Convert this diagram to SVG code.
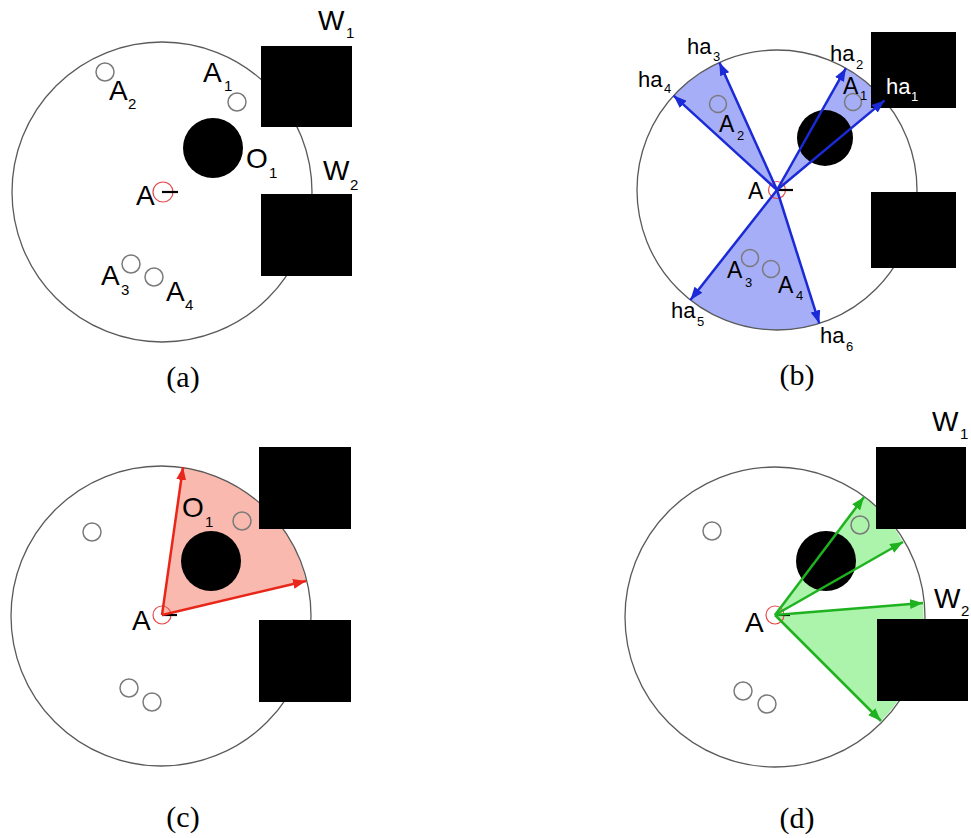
<svg xmlns="http://www.w3.org/2000/svg" width="971" height="838" viewBox="0 0 971 838">
<defs>
<style>
.env{fill:none;stroke:#5a5a5a;stroke-width:1.3}
.ag{fill:none;stroke:#7a7a7a;stroke-width:1.5}
.blk{fill:#000}
.rob{fill:none;stroke:#e84a4a;stroke-width:1.2}
.dash{stroke:#000;stroke-width:2.2}
.t{font-family:"Liberation Sans",Arial,sans-serif;fill:#000}
.L{font-size:28px}
.S{font-size:15px}
.Lb{font-size:23px}
.Sb{font-size:13px}
.H{font-size:22px}
.Hs{font-size:13px}
.w{fill:#fff}
.cap{font-family:"Liberation Serif","Times New Roman",serif;font-size:30px;fill:#000;text-anchor:middle}
.ab{stroke:#1a2ad6;stroke-width:2.5;fill:none}
.ar{stroke:#e8261a;stroke-width:2.5;fill:none}
.ag2{stroke:#1fb21f;stroke-width:2.5;fill:none}
</style>
<marker id="mb" markerUnits="userSpaceOnUse" markerWidth="13" markerHeight="10" refX="13" refY="5" orient="auto"><path d="M0,0 L13,5 L0,10 z" fill="#1a2ad6"/></marker>
<marker id="mr" markerUnits="userSpaceOnUse" markerWidth="13" markerHeight="10" refX="13" refY="5" orient="auto"><path d="M0,0 L13,5 L0,10 z" fill="#e8261a"/></marker>
<marker id="mg" markerUnits="userSpaceOnUse" markerWidth="13" markerHeight="10" refX="13" refY="5" orient="auto"><path d="M0,0 L13,5 L0,10 z" fill="#1fb21f"/></marker>
</defs>
<rect width="971" height="838" fill="#fff"/>

<!-- Panel (a) -->
<g id="panel-a">
<circle id="a-env" class="env" cx="162" cy="192" r="150"/>
<g id="a-A1"><circle class="ag" cx="237" cy="102" r="9"/><text class="t L" x="203" y="82">A</text><text class="t S" x="224" y="91">1</text></g>
<g id="a-A2"><circle class="ag" cx="105" cy="72" r="9"/><text class="t L" x="109" y="100">A</text><text class="t S" x="128" y="109">2</text></g>
<g id="a-A3"><circle class="ag" cx="131" cy="264" r="9"/><text class="t L" x="101" y="285">A</text><text class="t S" x="121" y="295">3</text></g>
<g id="a-A4"><circle class="ag" cx="154" cy="277" r="9"/><text class="t L" x="166" y="301">A</text><text class="t S" x="185" y="310">4</text></g>
<g id="a-O1"><circle class="blk" cx="213" cy="148" r="30"/><text class="t L" x="246" y="168">O</text><text class="t S" x="269" y="178">1</text></g>
<g id="a-W1"><rect class="blk" x="261" y="46" width="91" height="81"/><text class="t L" x="318" y="30">W</text><text class="t S" x="346" y="38">1</text></g>
<g id="a-W2"><rect class="blk" x="261" y="194" width="91" height="82"/><text class="t L" x="323" y="180">W</text><text class="t S" x="350" y="190">2</text></g>
<g id="a-A"><circle class="rob" cx="163" cy="192" r="10"/><line class="dash" x1="162" y1="192" x2="178" y2="192"/><text class="t L" x="136" y="205">A</text></g>
<text class="cap" x="183" y="387">(a)</text>
</g>

<!-- Panel (b) -->
<g id="panel-b">
<g id="b-fov" fill="#a6aef7">
<path d="M777,190 L884.6,100.4 A140,140 0 0 0 845.9,68.2 Z"/>
<path d="M777,190 L719.4,62.4 A140,140 0 0 0 673.6,95.6 Z"/>
<path d="M777,190 L690.4,300 A140,140 0 0 0 819.3,323.4 Z"/>
</g>
<circle id="b-env" class="env" cx="777" cy="190" r="140"/>
<g id="b-A1"><circle class="ag" cx="853" cy="102" r="8.5"/><text class="t Lb" x="843" y="94">A</text><text class="t Sb" x="860" y="100">1</text></g>
<g id="b-A2"><circle class="ag" cx="718" cy="104" r="8.5"/><text class="t Lb" x="719" y="132">A</text><text class="t Sb" x="737" y="140">2</text></g>
<g id="b-A3"><circle class="ag" cx="750" cy="258" r="8.5"/><text class="t Lb" x="727" y="278">A</text><text class="t Sb" x="745" y="287">3</text></g>
<g id="b-A4"><circle class="ag" cx="771" cy="269" r="8.5"/><text class="t Lb" x="778" y="293">A</text><text class="t Sb" x="796" y="300">4</text></g>
<g id="b-O1"><circle class="blk" cx="825" cy="138" r="28"/></g>
<g id="b-W1"><rect class="blk" x="871" y="32" width="85" height="76"/></g>
<g id="b-W2"><rect class="blk" x="871" y="192" width="85" height="76"/></g>
<g id="b-A"><circle class="rob" cx="777" cy="190" r="8.5"/><line class="dash" x1="777" y1="190" x2="793" y2="190"/><text class="t Lb" x="748" y="199">A</text></g>
<g id="b-connectors">
<line class="ab" x1="777" y1="190" x2="884.6" y2="100.4" marker-end="url(#mb)"/>
<line class="ab" x1="777" y1="190" x2="845.9" y2="68.2" marker-end="url(#mb)"/>
<line class="ab" x1="777" y1="190" x2="719.4" y2="62.4" marker-end="url(#mb)"/>
<line class="ab" x1="777" y1="190" x2="673.6" y2="95.6" marker-end="url(#mb)"/>
<line class="ab" x1="777" y1="190" x2="690.4" y2="300" marker-end="url(#mb)"/>
<line class="ab" x1="777" y1="190" x2="819.3" y2="323.4" marker-end="url(#mb)"/>
</g>
<g id="b-labels">
<text class="t H w" x="886" y="94">ha</text><text class="t Hs w" x="911" y="101">1</text>
<text class="t H" x="830" y="61">ha</text><text class="t Hs" x="856" y="69">2</text>
<text class="t H" x="687" y="54">ha</text><text class="t Hs" x="713" y="61">3</text>
<text class="t H" x="638" y="87">ha</text><text class="t Hs" x="664" y="93">4</text>
<text class="t H" x="671" y="318">ha</text><text class="t Hs" x="697" y="326">5</text>
<text class="t H" x="820" y="343">ha</text><text class="t Hs" x="846" y="351">6</text>
</g>
<text class="cap" x="797" y="385">(b)</text>
</g>

<!-- Panel (c) -->
<g id="panel-c">
<path id="c-fov" fill="#f9b9ae" d="M162,615 L183,467 A150,150 0 0 1 306,581 Z"/>
<circle id="c-env" class="env" cx="161" cy="616" r="150"/>
<g id="c-A1"><circle class="ag" cx="242" cy="521" r="9"/></g>
<g id="c-A2"><circle class="ag" cx="92" cy="532" r="9"/></g>
<g id="c-A3"><circle class="ag" cx="129" cy="688" r="9"/></g>
<g id="c-A4"><circle class="ag" cx="152" cy="702" r="9"/></g>
<g id="c-O1"><circle class="blk" cx="211" cy="561" r="30"/><text class="t L" x="182" y="517">O</text><text class="t S" x="205" y="527">1</text></g>
<g id="c-W1"><rect class="blk" x="259" y="447" width="92" height="82"/></g>
<g id="c-W2"><rect class="blk" x="259" y="620" width="92" height="82"/></g>
<g id="c-A"><circle class="rob" cx="162" cy="615" r="9"/><line class="dash" x1="162" y1="615" x2="177" y2="615"/><text class="t L" x="132" y="630">A</text></g>
<g id="c-connectors">
<line class="ar" x1="162" y1="615" x2="183" y2="467" marker-end="url(#mr)"/>
<line class="ar" x1="162" y1="615" x2="306" y2="581" marker-end="url(#mr)"/>
</g>
<text class="cap" x="183" y="827">(c)</text>
</g>

<!-- Panel (d) -->
<g id="panel-d">
<g id="d-fov" fill="#acf3ac">
<path d="M775,615 L864,497 A148,148 0 0 1 903,542 Z"/>
<path d="M775,615 L923,603 A148,148 0 0 1 881,721 Z"/>
</g>
<circle id="d-env" class="env" cx="775" cy="617" r="150"/>
<g id="d-A1"><circle class="ag" cx="860" cy="525" r="9"/></g>
<g id="d-A2"><circle class="ag" cx="712" cy="531" r="9"/></g>
<g id="d-A3"><circle class="ag" cx="743" cy="691" r="9"/></g>
<g id="d-A4"><circle class="ag" cx="767" cy="704" r="9"/></g>
<g id="d-O1"><circle class="blk" cx="826" cy="561" r="30"/></g>
<g id="d-W1"><rect class="blk" x="876" y="447" width="90" height="82"/><text class="t L" x="932" y="431">W</text><text class="t S" x="960" y="439">1</text></g>
<g id="d-W2"><rect class="blk" x="877" y="619" width="91" height="82"/><text class="t L" x="934" y="608">W</text><text class="t S" x="961" y="616">2</text></g>
<g id="d-A"><circle class="rob" cx="775" cy="615" r="9"/><line class="dash" x1="775" y1="615" x2="790" y2="615"/><text class="t L" x="745" y="632">A</text></g>
<g id="d-connectors">
<line class="ag2" x1="775" y1="615" x2="864" y2="497" marker-end="url(#mg)"/>
<line class="ag2" x1="775" y1="615" x2="903" y2="542" marker-end="url(#mg)"/>
<line class="ag2" x1="775" y1="615" x2="923" y2="603" marker-end="url(#mg)"/>
<line class="ag2" x1="775" y1="615" x2="881" y2="721" marker-end="url(#mg)"/>
</g>
<text class="cap" x="797" y="828">(d)</text>
</g>
</svg>
